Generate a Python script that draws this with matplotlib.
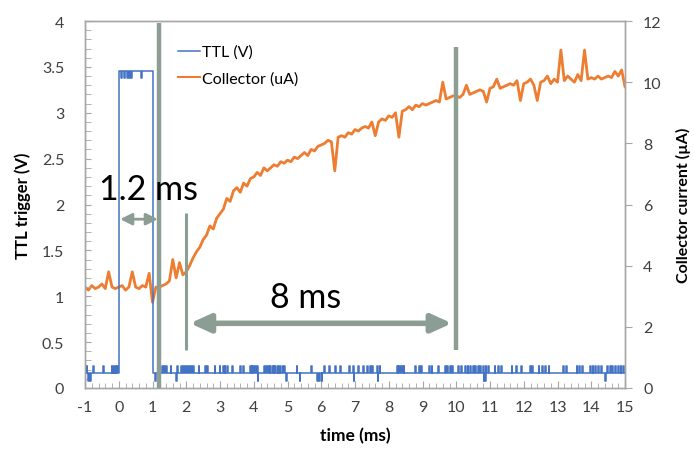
import numpy as np
import matplotlib

matplotlib.use('Agg')
import matplotlib.pyplot as plt
from matplotlib.ticker import MultipleLocator

plt.rcParams['font.family'] = ['Lato', 'DejaVu Sans']

# collector current (uA), sampled every 0.1 ms from -1 to 15 ms
COLLECTOR_T0 = -1.0
COLLECTOR_DT = 0.1
collector_ua = [
    3.3, 3.2, 3.35, 3.25, 3.3, 3.4, 3.25, 3.8, 3.3, 3.25,
    3.3, 3.35, 3.2, 3.3, 3.8, 3.3, 3.25, 3.35, 3.3, 3.75,
    2.8, 3.3, 3.3, 3.35, 3.4, 3.5, 4.2, 3.6, 4.1, 3.7,
    3.8, 4.0, 4.25, 4.45, 4.6, 4.85, 5.0, 5.3, 5.2, 5.55,
    5.7, 5.85, 6.2, 6.1, 6.45, 6.55, 6.4, 6.7, 6.6, 6.85,
    6.9, 7.05, 6.95, 7.2, 7.1, 7.2, 7.3, 7.25, 7.4, 7.35,
    7.45, 7.4, 7.55, 7.5, 7.6, 7.7, 7.6, 7.8, 7.75, 7.9,
    7.95, 8.0, 8.1, 8.05, 7.1, 8.2, 8.25, 8.2, 8.35, 8.3,
    8.45, 8.4, 8.5, 8.55, 8.5, 8.7, 8.25, 8.7, 8.8, 8.75,
    8.9, 8.85, 9.0, 8.2, 9.05, 9.1, 9.2, 9.1, 9.25, 9.2,
    9.3, 9.25, 9.3, 9.35, 9.4, 9.35, 10.0, 9.45, 9.5, 9.55,
    9.55, 9.5, 9.6, 9.9, 9.6, 9.65, 9.7, 9.75, 9.7, 9.35,
    9.8, 9.85, 10.1, 9.8, 9.85, 9.9, 9.95, 9.9, 10.05, 9.4,
    9.95, 10.0, 10.1, 9.9, 9.4, 10.0, 10.05, 10.2, 9.95, 10.1,
    10.0, 11.05, 10.05, 10.2, 10.1, 10.0, 10.25, 10.05, 11.05, 10.1,
    10.15, 10.1, 10.2, 10.1, 10.15, 10.2, 10.15, 10.35, 10.2, 10.4,
    9.85,
]

# TTL trigger (V): levels, pulse and glitch times (ms)
TTL_LOW = 0.16
TTL_HIGH = 3.45
TTL_GLITCH_UP = 0.24
TTL_GLITCH_DN = 0.08
TTL_HIGH_DIP = 3.38
ttl_pulse = (0.0, 1.0)
ttl_up_spikes = [
    -0.94, -0.76, -0.46, -0.2, -0.14, -0.08, -0.03,
    1.3, 1.36, 1.42, 1.55, 1.75, 1.87, 1.92, 1.97, 2.03, 2.1, 2.16, 2.22,
    2.38, 2.57, 2.63, 2.85, 3.0, 3.1, 3.15, 3.22, 3.36, 3.6, 3.7, 3.9,
    3.95, 4.0, 4.05, 4.12, 4.33, 4.38, 4.43, 4.48, 4.55, 4.6, 4.65, 4.72,
    4.78, 4.85, 4.92, 5.28, 5.72, 6.1, 6.25, 6.42, 6.58, 6.83, 6.95, 7.1,
    7.25, 7.38, 7.45, 7.52, 7.66, 7.74, 8.25, 8.3, 8.35, 8.4, 8.45, 8.8,
    8.9, 8.97, 9.2, 9.28, 9.47, 9.68, 9.75, 9.82, 9.9, 10.06, 10.15,
    10.28, 10.35, 10.42, 10.5, 10.58, 10.65, 10.72, 10.8, 10.88, 10.95,
    11.15, 11.25, 11.35, 11.65, 11.78, 11.94, 12.2, 12.27, 12.45, 12.55,
    12.65, 12.75, 13.18, 13.27, 13.58, 13.66, 13.74, 13.97, 14.05, 14.13,
    14.22, 14.3, 14.48, 14.56, 14.64, 14.72, 14.8, 14.88, 14.95,
]
ttl_dn_spikes = [-0.9, -0.84, 1.1, 1.72, 4.14, 4.96, 5.37, 5.88, 5.94,
                 6.02, 6.97, 7.68, 10.82, 10.87, 14.41]
ttl_high_dips = [0.09, 0.16, 0.25, 0.33, 0.38, 0.68]

# annotation marks (time in ms, levels in V on the left axis)
MARK_LINES = [(1.2, 0.0, 3.98, 3.2), (2.0, 0.41, 1.91, 2.2), (10.0, 0.41, 3.72, 3.2)]
ARROW_SHORT = (0.04, 1.16, 1.84)
ARROW_LONG = (2.11, 9.87, 0.705)
LABEL_SHORT = (0.87, 2.17, '1.2 ms')
LABEL_LONG = (5.55, 0.99, '8 ms')

BLUE = '#4472c4'
ORANGE = '#ed7d31'
MARK_GRAY = '#8c9e94'
SPINE_GRAY = '#a6a6a6'
TICK_COLOR = '#404040'


def build_ttl():
    w = 0.012
    changes = [(-1.0, TTL_LOW), (ttl_pulse[0], TTL_HIGH), (ttl_pulse[1], TTL_LOW)]
    for ts in ttl_up_spikes:
        changes += [(ts - w, TTL_GLITCH_UP), (ts + w, TTL_LOW)]
    for ts in ttl_dn_spikes:
        changes += [(ts - w, TTL_GLITCH_DN), (ts + w, TTL_LOW)]
    for ts in ttl_high_dips:
        changes += [(ts - w, TTL_HIGH_DIP), (ts + w, TTL_HIGH)]
    changes.sort(key=lambda c: c[0])
    changes.append((15.0, TTL_LOW))
    t = np.array([c[0] for c in changes])
    v = np.array([c[1] for c in changes])
    return t, v


fig = plt.figure(figsize=(6.94, 4.52), dpi=100)
fig.subplots_adjust(left=0.1225, right=0.9006, bottom=0.1394, top=0.9513)
ax = fig.add_subplot(111)
ax2 = ax.twinx()
ax.set_zorder(ax2.get_zorder() + 1)
ax.patch.set_visible(False)

coll = np.array(collector_ua)
t_coll = COLLECTOR_T0 + COLLECTOR_DT * np.arange(len(coll))
ax2.plot(t_coll, coll, color=ORANGE, lw=2.0)

t_ttl, v_ttl = build_ttl()
l1, = ax.plot(t_ttl, v_ttl, color=BLUE, lw=1.1, drawstyle='steps-post')
l2, = ax.plot([], [], color=ORANGE, lw=1.5)

for x, y0, y1, lw in MARK_LINES:
    ax.plot([x, x], [y0, y1], color=MARK_GRAY, lw=lw, solid_capstyle='butt', zorder=5)

ax.annotate('', xy=(ARROW_SHORT[0], ARROW_SHORT[2]), xytext=(ARROW_SHORT[1], ARROW_SHORT[2]),
            arrowprops=dict(arrowstyle='<|-|>,head_length=0.5,head_width=0.25', color=MARK_GRAY,
                            lw=2, mutation_scale=14, shrinkA=0, shrinkB=0), zorder=5)
ax.annotate('', xy=(ARROW_LONG[0], ARROW_LONG[2]), xytext=(ARROW_LONG[1], ARROW_LONG[2]),
            arrowprops=dict(arrowstyle='<|-|>,head_length=0.55,head_width=0.25', color=MARK_GRAY,
                            lw=4, mutation_scale=22, shrinkA=0, shrinkB=0), zorder=5)
for x, y, s in (LABEL_SHORT, LABEL_LONG):
    ax.text(x, y, s, fontsize=24.5, ha='center', va='center', color='black', zorder=6)

ax.set_xlim(-1, 15)
ax.set_ylim(0, 4)
ax2.set_ylim(0, 12)
ax.set_xticks(np.arange(-1, 16, 1))
ax.set_xticklabels([f'{v:g}' for v in np.arange(-1, 16, 1)])
ax.set_yticks(np.arange(0, 4.01, 0.5))
ax.set_yticklabels([f'{v:g}' for v in np.arange(0, 4.01, 0.5)])
ax.xaxis.set_minor_locator(MultipleLocator(0.2))
ax.yaxis.set_minor_locator(MultipleLocator(0.1))
ax2.set_yticks(np.arange(0, 13, 2))

ax.tick_params(axis='x', which='both', direction='in', color=SPINE_GRAY, labelcolor=TICK_COLOR,
               labelsize=11.5, pad=9, top=False)
ax.tick_params(axis='x', which='major', length=5)
ax.tick_params(axis='x', which='minor', length=3.5)
ax.tick_params(axis='y', which='both', direction='in', length=4, color=SPINE_GRAY,
               labelcolor=TICK_COLOR, labelsize=11.5, pad=15, right=False)
ax2.tick_params(axis='y', which='major', direction='out', length=5, color=SPINE_GRAY,
                labelcolor=TICK_COLOR, labelsize=11.5, pad=8)

for a in (ax, ax2):
    for sp in a.spines.values():
        sp.set_color(SPINE_GRAY)
        sp.set_linewidth(1.0)

ax.set_xlabel('time (ms)', fontsize=12.5, fontweight='bold', labelpad=9)
ax.set_ylabel('TTL trigger (V)', fontsize=12, fontweight='bold', labelpad=8)
ax2.set_ylabel('Collector current (µA)', fontsize=11.5, fontweight='bold', labelpad=10)

ax.legend([l1, l2], ['TTL (V)', 'Collector (uA)'], loc='upper left',
          bbox_to_anchor=(0.172, 0.935), frameon=False, fontsize=11.5,
          handlelength=1.4, handletextpad=0.1, labelspacing=0.75,
          borderaxespad=0, borderpad=0)

fig.savefig('out.png', dpi=100)
